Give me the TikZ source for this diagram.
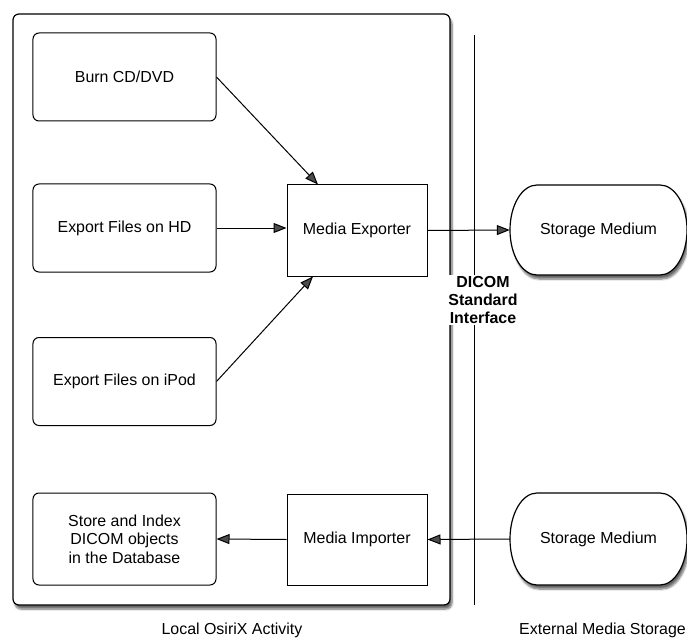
\documentclass[tikz,border=0pt]{standalone}
\usepackage{fontspec}
\setmainfont{Liberation Sans}
\usetikzlibrary{arrows.meta,shadows.blur}
\begin{document}
\begin{tikzpicture}[x=1bp,y=-1bp,
  every node/.style={font=\fontsize{16}{18.5}\selectfont, align=center},
  act/.style={draw, line width=1bp, rounded corners=6bp, minimum width=183bp, minimum height=88bp, inner sep=0pt},
  media/.style={draw, line width=1bp, minimum width=140bp, minimum height=91bp, inner sep=0pt},
  stor/.style={minimum width=177bp, minimum height=90bp, inner sep=0pt},
  arr/.style={line width=1bp, -{Triangle[length=13bp,width=10bp]}},
  shad/.style={blur shadow={shadow blur steps=6, shadow xshift=2bp, shadow yshift=-4bp, shadow opacity=60}}]
\useasboundingbox (0,0) rectangle (687,638);
% outer frame
\draw[line width=1.2bp, rounded corners=6bp, fill=white, shad] (13,14) rectangle (450,605);
% vertical interface line
\coordinate (vt) at (474,35);
\coordinate (vb) at (474,605);
\draw[line width=1bp] (vt) -- (vb);
% storage medium shapes
\draw[line width=1.2bp, fill=white, shad] (537,185) -- (660,185) arc[start angle=90, end angle=-90, x radius=27, y radius=-45] -- (537,275) arc[start angle=-90, end angle=-270, x radius=27, y radius=-45] -- cycle;
\draw[line width=1.2bp, fill=white, shad] (537,493) -- (660,493) arc[start angle=90, end angle=-90, x radius=27, y radius=-46] -- (537,585) arc[start angle=-90, end angle=-270, x radius=27, y radius=-46] -- cycle;
\node[stor] (sm1) at (598.5,230) {Storage Medium};
\node[stor] (sm2) at (598.5,539) {Storage Medium};
% activity boxes
\node[act] (burn) at (124.5,77) {Burn CD/DVD};
\node[act] (hd) at (124.5,228) {Export Files on HD};
\node[act] (ipod) at (124.5,381.5) {Export Files on iPod};
\node[act, minimum height=92bp] (store) at (124.5,539) {Store and Index\\DICOM objects\\in the Database};
% media boxes
\node[media] (exp) at (357,230.5) {Media Exporter};
\node[media, minimum height=91bp] (imp) at (357,539.5) {Media Importer};
% interface label
\node[fill=white, inner sep=1bp, font=\fontsize{16}{18.5}\selectfont\bfseries] (dicom) at (483,300) {DICOM\\Standard\\Interface};
% arrows
\draw[arr] (burn.east) -- ([xshift=-39bp]exp.north);
\draw[arr] (hd.east) -- (hd.east -| exp.west);
\draw[arr] (ipod.east) -- ([xshift=-44bp]exp.south);
\draw[arr] (exp.east) -- (sm1.west);
\draw[arr] (sm2.west) -- (imp.east);
\draw[arr] (imp.west) -- (store.east);
% bottom labels
\node (lloc) at (232,630) {Local OsiriX Activity};
\node[anchor=east, inner xsep=0pt] (lext) at (686,630) {External Media Storage};
\end{tikzpicture}
\end{document}
